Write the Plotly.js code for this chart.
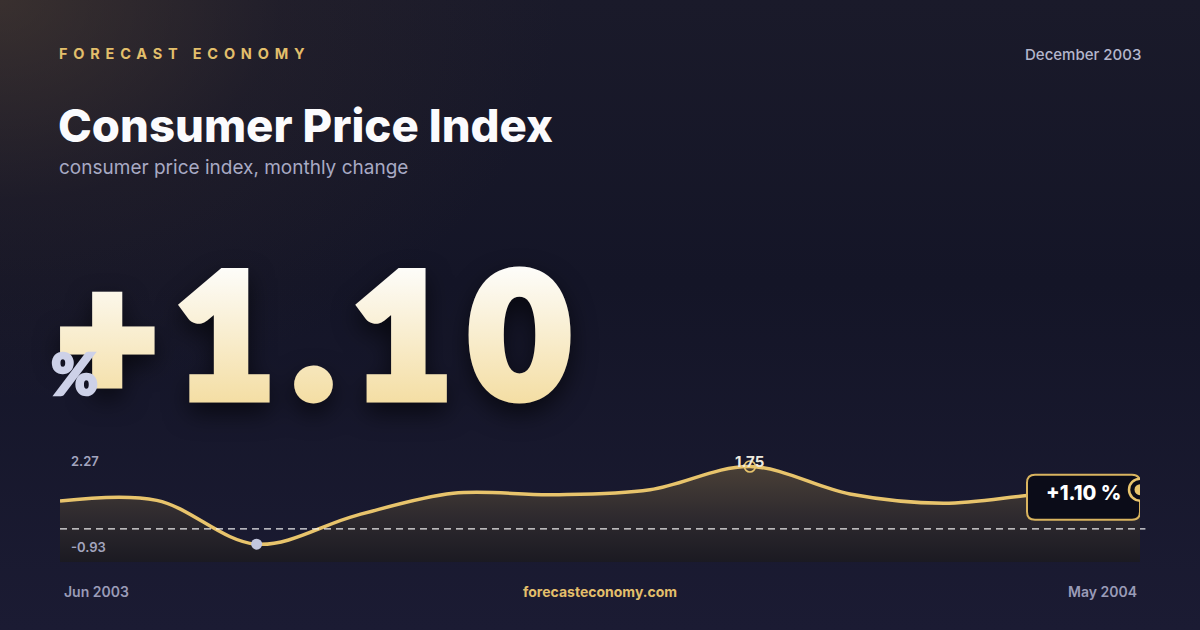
<!DOCTYPE html>
<html>
<head>
<meta charset="utf-8">
<script src="https://cdn.plot.ly/plotly-3.0.1.min.js"></script>
<style>
  html, body { margin:0; padding:0; background:#15162a; }
  #card {
    width:1200px; height:630px;
    background:
      radial-gradient(ellipse 560px 400px at 0% 0%, rgba(88,70,52,0.5) 0%, rgba(58,46,44,0.22) 50%, rgba(0,0,0,0) 100%),
      linear-gradient(180deg, #1a1a2a 0%, #141527 45%, #1b1b33 100%);
  }
</style>
</head>
<body>
<div id="card"></div>
<script>
"use strict"

// monthly change of the consumer price index, Jun 2003 .. May 2004
const months = ['2003-06-01','2003-07-01','2003-08-01','2003-09-01','2003-10-01','2003-11-01',
                '2003-12-01','2004-01-01','2004-02-01','2004-03-01','2004-04-01','2004-05-01']
const cpiChange = [0.78, 0.80, -0.43, 0.38, 1.00, 0.96, 1.10, 1.75, 0.98, 0.72, 0.98, 1.10]
const yRange = [-0.93, 2.27]
const edgeLabels = ['Jun 2003', 'May 2004']
const headline = '+1.10'
const period = 'December 2003'

const GOLD = '#e8c46c'
const FONT = 'Inter, "Noto Sans", sans-serif'
const HEAVY = 'Lato, Inter, sans-serif'

// plot area in pixels, used only for placing text on the card
const L = 60, R = 1140, T = 448, B = 562
const px = x => (x - L) / (R - L)
const py = y => (B - y) / (B - T)

const last = months.length - 1
const iMax = cpiChange.indexOf(Math.max(...cpiChange))
const iMin = cpiChange.indexOf(Math.min(...cpiChange))

const baseline = {
  x: months, y: months.map(v => yRange[0]),
  mode: 'lines', line: {width: 0}, hoverinfo: 'skip', showlegend: false,
}
const area = {
  x: months, y: cpiChange,
  mode: 'lines', line: {color: GOLD, width: 3.5, shape: 'spline', smoothing: 1},
  fill: 'tonexty',
  fillgradient: {type: 'vertical', colorscale: [[0, '#1b1a22'], [0.45, '#2d292e'], [1, '#4a4037']]},
  hoverinfo: 'skip', showlegend: false,
}
const minDot = {
  x: [months[iMin]], y: [cpiChange[iMin]], mode: 'markers',
  marker: {size: 11, color: '#c2c6dd'}, showlegend: false, hoverinfo: 'skip',
}
const peakRing = {
  x: [months[iMax]], y: [cpiChange[iMax]], mode: 'markers',
  marker: {size: 11, symbol: 'circle-open', color: GOLD, line: {width: 1.6, color: GOLD}},
  showlegend: false, hoverinfo: 'skip',
}

const txt = (x, y, text, size, color, weight, anchor, family) => ({
  xref: 'paper', yref: 'paper', x: px(x), y: py(y), text: text,
  xanchor: anchor || 'left', yanchor: 'middle', showarrow: false,
  font: {family: family || FONT, size: size, color: color, weight: weight},
})

const annotations = [
  txt(57, 53, 'FORECAST ECONOMY', 14.5, '#e3bf6b', 700),
  txt(1143, 54, period, 15, '#b4b6cc', 500, 'right'),
  txt(56, 125, 'Consumer Price Index', 45.5, '#fbfbfd', 800),
  txt(57, 167, 'consumer price index, monthly change', 19, '#a8aac4', 400),
  txt(56, 331, headline, 170, '#f6e6bb', 900, 'left', HEAVY),
  txt(49, 373, '%', 57, '#cdd1e8', 900, 'left', HEAVY),
  txt(69, 461, yRange[1].toFixed(2), 13, '#a3a5bf', 600),
  txt(69, 547, yRange[0].toFixed(2), 13, '#a3a5bf', 600),
  txt(62, 591, edgeLabels[0], 14, '#9a9cb8', 600),
  txt(600, 591, 'forecasteconomy.com', 14, '#e3bf6b', 700, 'center'),
  txt(1139, 591, edgeLabels[1], 14, '#9a9cb8', 600, 'right'),
  {
    xref: 'x', yref: 'y', x: months[iMax], y: cpiChange[iMax], yshift: 5,
    text: cpiChange[iMax].toFixed(2), showarrow: false,
    font: {family: FONT, size: 15, color: '#eeeadf', weight: 700},
  },
  {
    xref: 'x', yref: 'y', x: months[last], y: cpiChange[last], xshift: -57, yshift: -3,
    text: (cpiChange[last] >= 0 ? '+' : '') + cpiChange[last].toFixed(2) + ' %', showarrow: false,
    font: {family: FONT, size: 20, color: '#ffffff', weight: 800},
  },
]

// rounded box behind the last value, in pixels around the last point
const w = 113, h1 = 15, h2 = 30, r = 8
const boxPath = `M ${-w + r} ${h1} L ${-r} ${h1} Q 0 ${h1} 0 ${h1 - r} L 0 ${-h2 + r} Q 0 ${-h2} ${-r} ${-h2}` +
  ` L ${-w + r} ${-h2} Q ${-w} ${-h2} ${-w} ${-h2 + r} L ${-w} ${h1 - r} Q ${-w} ${h1} ${-w + r} ${h1} Z`

const pin = (d, fill, lineColor, lineWidth) => ({
  type: 'circle', layer: 'above',
  xref: 'x', yref: 'y', xsizemode: 'pixel', ysizemode: 'pixel',
  xanchor: months[last], yanchor: cpiChange[last],
  x0: -d / 2, x1: d / 2, y0: -d / 2, y1: d / 2,
  fillcolor: fill, line: {color: lineColor, width: lineWidth},
})

const shapes = [
  {type: 'line', layer: 'above', xref: 'paper', yref: 'y', x0: 0, x1: 1.005, y0: 0, y1: 0,
   line: {color: 'rgba(255,255,255,0.9)', width: 1.3, dash: '7px,5px'}},
  {type: 'path', layer: 'above', xref: 'x', yref: 'y', xsizemode: 'pixel', ysizemode: 'pixel',
   xanchor: months[last], yanchor: cpiChange[last], path: boxPath,
   fillcolor: '#0b0c18', line: {color: '#d9b45f', width: 2}},
  pin(22, '#0b0c18', GOLD, 2.5),
  pin(11, GOLD, GOLD, 0),
]

const layout = {
  width: 1200, height: 630,
  margin: {l: L, r: 1200 - R, t: T, b: 630 - B, pad: 0},
  paper_bgcolor: 'rgba(0,0,0,0)', plot_bgcolor: 'rgba(0,0,0,0)',
  showlegend: false,
  xaxis: {type: 'date', range: [months[0], months[last]], visible: false, fixedrange: true},
  yaxis: {range: yRange, visible: false, fixedrange: true},
  annotations: annotations,
  shapes: shapes,
}

// keep the left edge of a text when widening it with letter spacing
const spread = (t, spacing) => {
  const b0 = t.getBBox()
  t.setAttribute('text-anchor', 'start')
  t.setAttribute('x', b0.x)
  t.style.letterSpacing = spacing
}

Plotly.newPlot('card', [baseline, area, minDot, peakRing], layout, {displayModeBar: false, staticPlot: true})
  .then(gd => {
    // gradient fill and heavier strokes on the headline number, letter spacing on the brand line
    const svg = gd.querySelector('.main-svg')
    const ns = 'http://www.w3.org/2000/svg'
    const defs = svg.querySelector('defs') || svg.insertBefore(document.createElementNS(ns, 'defs'), svg.firstChild)
    const grad = document.createElementNS(ns, 'linearGradient')
    grad.setAttribute('id', 'headGrad')
    grad.setAttribute('x1', '0'); grad.setAttribute('y1', '0')
    grad.setAttribute('x2', '0'); grad.setAttribute('y2', '1')
    ;[['0.2', '#fdfcf8'], ['0.85', '#f4dea4']].forEach(([o, c]) => {
      const s = document.createElementNS(ns, 'stop')
      s.setAttribute('offset', o); s.setAttribute('stop-color', c)
      grad.appendChild(s)
    })
    defs.appendChild(grad)
    gd.querySelectorAll('.annotation-text').forEach(t => {
      if (t.textContent === headline) {
        spread(t, '19px')
        t.style.setProperty('fill', 'url(#headGrad)')
        t.style.setProperty('stroke', 'url(#headGrad)')
        t.style.setProperty('stroke-width', '11px')
        t.style.setProperty('stroke-linejoin', 'miter')
        t.style.setProperty('filter', 'drop-shadow(0px 10px 12px rgba(0,0,0,0.6))')
      }
      if (t.textContent === '%') {
        t.style.setProperty('stroke', '#cdd1e8')
        t.style.setProperty('stroke-width', '2.5px')
      }
      if (t.textContent === 'FORECAST ECONOMY') spread(t, '5.8px')
    })
  })
</script>
</body>
</html>
